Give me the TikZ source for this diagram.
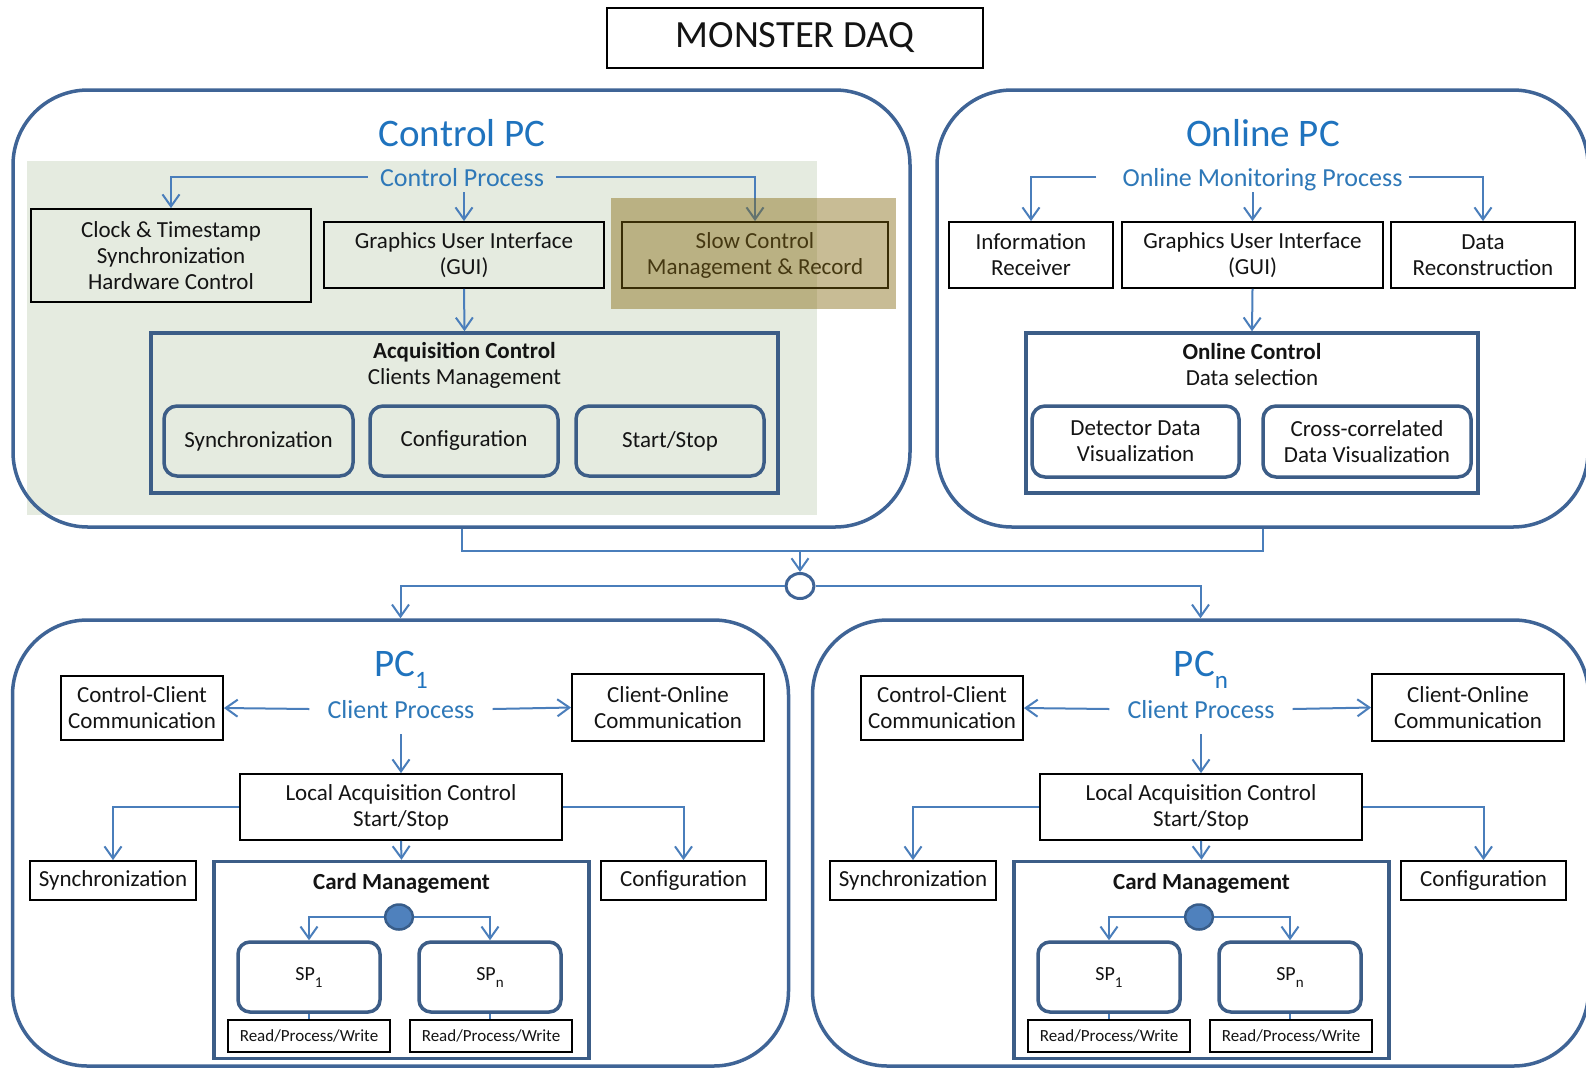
\documentclass[tikz,border=0pt]{standalone}
\usepackage{fontspec}
\setmainfont{Carlito}
\usetikzlibrary{arrows.meta,calc,shapes.geometric}
\definecolor{outerblue}{RGB}{63,100,150}
\definecolor{connblue}{RGB}{74,126,187}
\definecolor{innerblue}{RGB}{60,93,135}
\definecolor{titleblue}{RGB}{31,115,190}
\definecolor{procblue}{RGB}{46,120,184}
\definecolor{bggreen}{RGB}{229,235,224}
\definecolor{olivec}{RGB}{132,103,14}
\definecolor{dotfill}{RGB}{79,129,189}
\definecolor{dotline}{RGB}{56,93,138}
\definecolor{txt}{RGB}{20,20,20}
\tikzset{
  body/.style={font=\fontsize{23}{26}\selectfont, text=txt, align=center},
  plainbox/.style={body, draw=black, line width=1.8pt, inner sep=0pt},
  container/.style={draw=outerblue, line width=3.5pt, rounded corners=75pt, inner sep=0pt},
  framebox/.style={draw=innerblue, line width=3.5pt, inner sep=0pt},
  roundbox/.style={body, draw=innerblue, line width=3.5pt, rounded corners=13pt, inner sep=0pt},
  conn/.style={draw=connblue, line width=2pt},
  arr/.style={conn, -{Straight Barb[length=12pt,width=17pt]}},
  bigtitle/.style={font=\fontsize{39}{42}\selectfont, text=titleblue, inner sep=0pt},
  proc/.style={font=\fontsize{26}{30}\selectfont, text=procblue, text depth=0pt, inner xsep=12pt, inner ysep=6pt},
  sz/.style 2 args={minimum width=#1pt, minimum height=#2pt},
  hubdot/.style={ellipse, inner sep=0pt, minimum width=28pt, minimum height=25pt},
}
\begin{document}
\begin{tikzpicture}[x=1pt,y=-1pt]
\useasboundingbox (0,0) rectangle (1586,1069);
\fill[white] (0,0) rectangle (1586,1069);

% Title
\node[plainbox, sz={376}{60}, font=\fontsize{38.5}{40}\selectfont] (title) at (795,38) {MONSTER DAQ};

% ---------------- Control PC ----------------
\node[fill=bggreen, inner sep=0pt, sz={790}{354}] (ctrlbg) at (422,338) {};
\node[container, sz={897}{437}] (ctrlpc) at (461.5,308.5) {};
\node[bigtitle] (ctrltitle) at (462,133) {Control PC};
\node[proc] (cproc) at (462,177) {Control Process};
\node[plainbox, sz={280}{93}] (clock) at (171,255.5) {Clock \& Timestamp\\Synchronization\\Hardware Control};
\node[plainbox, sz={280}{66}] (cgui) at (464,255) {Graphics User Interface\\(GUI)};
\node[plainbox, sz={266}{66}] (slow) at (755,255) {Slow Control\\Management \& Record};
\node[framebox, sz={627}{160}] (acq) at (464.5,413) {};
\node[body] (acqtxt) at (464.5,365) {\textbf{Acquisition Control}\\Clients Management};
\node[roundbox, sz={189}{70}] (csync) at (258.5,441) {Synchronization};
\node[roundbox, sz={188}{70}] (cconf) at (464,441) {Configuration};
\node[roundbox, sz={188}{70}] (cstart) at (670,441) {Start/Stop};
\draw[arr] (cproc.west) -| (clock.north);
\draw[arr] (cproc.east) -| (slow.north);
\draw[arr] (cproc.south -| cgui.north) -- (cgui.north);
\draw[arr] (cgui.south) -- (acq.north);
\node[fill=olivec, fill opacity=0.44, inner sep=0pt, sz={285}{111}] (slowhl) at (753.5,253.5) {};

% ---------------- Online PC ----------------
\node[container, sz={651}{437}] (onlpc) at (1262.5,308.5) {};
\node[bigtitle] (onltitle) at (1263,133) {Online PC};
\node[proc, inner xsep=6pt] (oproc) at (1262.5,177) {Online Monitoring Process};
\node[plainbox, sz={164}{66}] (info) at (1031,255) {Information\\Receiver};
\node[plainbox, sz={261}{66}] (ogui) at (1252.5,255) {Graphics User Interface\\(GUI)};
\node[plainbox, sz={184}{66}] (drec) at (1483,255) {Data\\Reconstruction};
\node[framebox, sz={452}{160}] (octl) at (1252,413) {};
\node[body] (octltxt) at (1252,365) {\textbf{Online Control}\\Data selection};
\node[roundbox, sz={207}{71}] (detv) at (1135.5,441.5) {Detector Data\\Visualization};
\node[roundbox, sz={208}{71}] (crossv) at (1367,441.5) {Cross-correlated\\Data Visualization};
\draw[arr] ([xshift=-20pt]oproc.west) -| (info.north);
\draw[arr] (oproc.east) -| (drec.north);
\draw[arr] (oproc.south -| ogui.north) -- (ogui.north);
\draw[arr] (ogui.south) -- (octl.north);

% ---------------- Client PCs ----------------
\foreach \s/\p/\sub in {0/a/1, 800/b/n}{
\begin{scope}[xshift=\s pt]
\node[container, sz={776}{446}] (pc\p) at (400.5,843) {};
\node[bigtitle] (pct\p) at (401,670) {PC\raisebox{-0.3em}{\fontsize{25}{25}\selectfont\sub}};
\node[proc, inner xsep=18pt, inner ysep=16pt] (cpr\p) at (401,709) {Client Process};
\node[plainbox, sz={162}{64}] (cc\p) at (142,708) {Control-Client\\Communication};
\node[plainbox, sz={192}{67}] (co\p) at (668,707.5) {Client-Online\\Communication};
\node[plainbox, sz={322}{66}] (la\p) at (401,807) {Local Acquisition Control\\Start/Stop};
\node[plainbox, sz={166}{39}] (sy\p) at (113,880.5) {Synchronization};
\node[plainbox, sz={165}{39}] (cf\p) at (683.5,880.5) {Configuration};
\node[framebox, sz={375}{197}] (cm\p) at (401.5,960) {};
\node[body] (cmt\p) at (401.5,883) {\textbf{Card Management}};
\node[hubdot, fill=dotfill, draw=dotline, line width=2.5pt] (dot\p) at (399,917) {};
\node[roundbox, sz={142}{70}, rounded corners=12pt, font=\fontsize{20}{22}\selectfont] (spa\p) at (309,977) {SP\raisebox{-0.35em}{\fontsize{15}{15}\selectfont 1}};
\node[roundbox, sz={142}{70}, rounded corners=12pt, font=\fontsize{20}{22}\selectfont] (spb\p) at (490,977) {SP\raisebox{-0.35em}{\fontsize{15}{15}\selectfont n}};
\node[plainbox, sz={162}{32}, font=\fontsize{17}{20}\selectfont] (rwa\p) at (309,1036) {Read/Process/Write};
\node[plainbox, sz={162}{32}, font=\fontsize{17}{20}\selectfont] (rwb\p) at (491,1036) {Read/Process/Write};
\draw[arr] (cpr\p.west) -- (cc\p.east);
\draw[arr] (cpr\p.east) -- (co\p.west);
\draw[arr] (cpr\p.south) -- (la\p.north);
\draw[arr] (la\p.west) -| (sy\p.north);
\draw[arr] (la\p.east) -| (cf\p.north);
\draw[arr] (la\p.south) -- (cm\p.north);
\draw[arr] (dot\p.west) -| (spa\p.north);
\draw[arr] (dot\p.east) -| (spb\p.north);
\draw[conn] (spa\p.south) -- (spa\p.south |- rwa\p.north);
\draw[conn] (spb\p.south) -- (spb\p.south |- rwb\p.north);
\end{scope}
}

% ---------------- Bus / hub ----------------
\coordinate (bus) at (800,551);
\node[hubdot, draw=outerblue, fill=white, line width=3pt] (hub) at (800,586) {};
\draw[conn] (ctrlpc.south) |- (bus) -| (onlpc.south);
\draw[arr] (bus) -- (hub.north);
\draw[arr] (hub.west) -| (pca.north);
\draw[arr] (hub.east) -| (pcb.north);
\end{tikzpicture}
\end{document}
